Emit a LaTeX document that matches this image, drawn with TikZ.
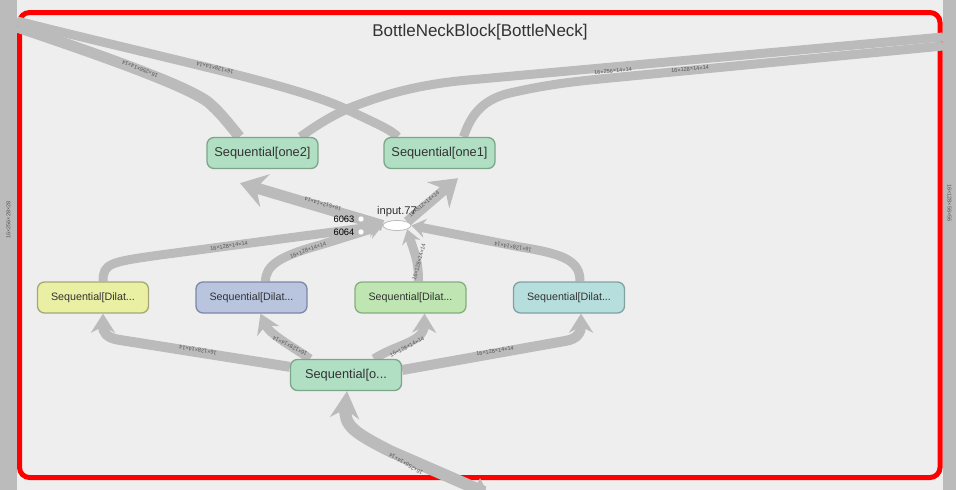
\documentclass[tikz,border=0pt]{standalone}
\usepackage{fontspec}
\setmainfont{Liberation Sans}
\usetikzlibrary{arrows.meta,shapes.geometric,calc}
\definecolor{bgc}{HTML}{EEEEEE}
\definecolor{ribc}{HTML}{BBBBBB}
\definecolor{labc}{HTML}{555555}
\definecolor{txtc}{HTML}{333333}
\definecolor{onefill}{HTML}{B1DFC4}
\definecolor{onedraw}{HTML}{7DA58A}
\definecolor{yelfill}{HTML}{E9EFA3}
\definecolor{yeldraw}{HTML}{A6A873}
\definecolor{blufill}{HTML}{B9C4DF}
\definecolor{bludraw}{HTML}{7D88A8}
\definecolor{grnfill}{HTML}{BFE6B2}
\definecolor{grndraw}{HTML}{86AE7E}
\definecolor{cyafill}{HTML}{B6DEDD}
\definecolor{cyadraw}{HTML}{7FA3A2}
\definecolor{redc}{HTML}{FF0000}
\pgfdeclarelayer{bgzero}
\pgfdeclarelayer{edges}
\pgfsetlayers{bgzero,edges,main}
\begin{document}
\begin{tikzpicture}[x=1pt,y=-1pt,
  rib/.style={draw=ribc,line width=#1},
  rib/.default=8pt,
  lbl/.style={font=\fontsize{5.6}{5.6}\selectfont,text=labc,inner sep=0pt},
  seqbox/.style={rounded corners=7pt,line width=1.3pt,minimum width=111pt,minimum height=31pt,inner sep=0pt,text=txtc},
  bigfont/.style={font=\fontsize{12.8}{13}\selectfont},
  smallfont/.style={font=\fontsize{10.7}{11}\selectfont},
  bigarr/.style={-{Stealth[length=26pt,width=34pt,inset=9pt]}},
  midarr/.style={-{Stealth[length=19pt,width=24pt,inset=6pt]}},
  smallarr/.style={-{Stealth[length=14pt,width=19pt,inset=5pt]}},
]
\useasboundingbox (0,0) rectangle (956,490);
\begin{pgfonlayer}{bgzero}
\fill[bgc] (0,0) rectangle (956,490);
\fill[ribc] (0,0) rectangle (17,490);
\fill[ribc] (943,0) rectangle (956,490);
\draw[redc,line width=5pt,rounded corners=10pt] (19.5,12.5) rectangle (940,477.5);
\end{pgfonlayer}

% nodes
\node[seqbox,bigfont,fill=onefill,draw=onedraw] (one2) at (262.5,153) {Sequential[one2]};
\node[seqbox,bigfont,fill=onefill,draw=onedraw] (one1) at (439.5,153) {Sequential[one1]};
\node[seqbox,smallfont,fill=yelfill,draw=yeldraw] (dil1) at (93,297.5) {Sequential[Dilat...};
\node[seqbox,smallfont,fill=blufill,draw=bludraw] (dil2) at (251.5,297.5) {Sequential[Dilat...};
\node[seqbox,smallfont,fill=grnfill,draw=grndraw] (dil3) at (410.5,297.5) {Sequential[Dilat...};
\node[seqbox,smallfont,fill=cyafill,draw=cyadraw] (dil4) at (569,297.5) {Sequential[Dilat...};
\node[seqbox,bigfont,fill=onefill,draw=onedraw] (seqo) at (346,375) {Sequential[o...};
\node[ellipse,fill=white,draw=ribc,line width=0.8pt,minimum width=28pt,minimum height=10pt,inner sep=0pt] (inp) at (397,225.5) {};
\node[font=\fontsize{11.2}{11}\selectfont,text=txtc,inner sep=0pt] (inplbl) at (397,211.5) {input.77};
\node[circle,fill=white,draw=ribc,line width=0.4pt,minimum size=6pt,inner sep=0pt] (c1) at (361,219) {};
\node[circle,fill=white,draw=ribc,line width=0.4pt,minimum size=6pt,inner sep=0pt] (c2) at (361,232) {};
\node[font=\fontsize{9.3}{9}\selectfont,anchor=east,inner sep=0pt] (t1) at (354.5,219) {6063};
\node[font=\fontsize{9.3}{9}\selectfont,anchor=east,inner sep=0pt] (t2) at (354.5,232) {6064};
\node[font=\fontsize{17}{17}\selectfont,text=txtc,inner sep=0pt] (title) at (480,32) {BottleNeckBlock[BottleNeck]};

\coordinate (L1) at (17,21);
\coordinate (L2) at (17,27);
\coordinate (R1) at (943,37);
\coordinate (R2) at (943,46);
\coordinate (B) at (484,492);

\begin{pgfonlayer}{edges}
% top-left ribbons
\draw[rib=9pt] (L1) .. controls (180,62) and (300,86) .. (350,111) .. controls (375,123) and (392,130) .. ([xshift=-42pt]one1.north);
\draw[rib=11pt] (L2) .. controls (100,55) and (185,85) .. (208,102) .. controls (222,114) and (232,128) .. ([xshift=-23pt]one2.north);
% right ribbons
\draw[rib=9pt] ([xshift=38pt]one2.north) .. controls (318,124) and (335,114) .. (352,107) .. controls (400,88) and (440,82) .. (480,79) -- (R1);
\draw[rib=9pt] ([xshift=24pt]one1.north) .. controls (470,118) and (480,100) .. (510,93) .. controls (545,85) and (570,82) .. (600,79) -- (R2);
% input -> one2 / one1
\draw[rib=11pt,bigarr] (inp.west) -- ([xshift=-22.5pt,yshift=-14pt]one2.south);
\draw[rib=10pt,bigarr] (inp.north east) -- ([xshift=18.5pt,yshift=-9pt]one1.south);
% dilated -> input
\draw[rib=9pt,smallarr] ([xshift=10pt]dil1.north) .. controls ([xshift=10pt,yshift=18pt]dil1.north) and (110,262) .. (160,255) -- (inp.west);
\draw[rib=9pt,smallarr] ([xshift=14pt]dil2.north) .. controls ([xshift=14pt,yshift=16pt]dil2.north) and (280,256) .. (320,245) -- (inp.west);
\draw[rib=9pt,smallarr] ([xshift=8pt]dil3.north) .. controls ([xshift=8pt,yshift=22pt]dil3.north) and (414,252) .. (inp.south east);
\draw[rib=9pt,smallarr] ([xshift=11pt]dil4.north) .. controls ([xshift=11pt,yshift=20pt]dil4.north) and (565,254) .. (520,247) -- (inp.east);
% little ports
\draw[ribc,line width=1.2pt,-{Stealth[length=5pt,width=5pt]}] (c1) -- (inp.west);
\draw[ribc,line width=1.2pt,-{Stealth[length=5pt,width=5pt]}] (c2) -- (inp.west);
% seqo -> dilated
\draw[rib=10pt,midarr] ([yshift=-8pt]seqo.north west) -- (120,340) .. controls (106,338) and (103,332) .. ([xshift=10pt]dil1.south);
\draw[rib=9pt,midarr] ([xshift=-36pt]seqo.north) .. controls (295,348) and (270,335) .. ([xshift=9pt]dil2.south);
\draw[rib=9pt,midarr] ([xshift=28pt]seqo.north) .. controls (395,345) and (424,342) .. ([xshift=14pt]dil3.south);
\draw[rib=10pt,midarr] ([yshift=5pt]seqo.east) -- (565,341) .. controls (578,339) and (581,332) .. ([xshift=12pt]dil4.south);
% bottom input
\draw[rib=12pt,-{Stealth[length=27pt,width=29pt,inset=9pt]}] (B) -- (392,452) .. controls (352,432) and (344,425) .. ([xshift=1pt]seqo.south);
\fill[ribc] (474,490) -- (480,478) -- (486,490) -- cycle;
\end{pgfonlayer}

% edge labels
\node[lbl,rotate=158] (e1) at (140,69) {16×256×14×14};
\node[lbl,rotate=166] (e2) at (215,68) {16×128×14×14};
\node[lbl,rotate=5] (e3) at (613,71) {16×256×14×14};
\node[lbl,rotate=5] (e4) at (690,69) {16×128×14×14};
\node[lbl,rotate=164] (e5) at (323,204) {16×512×14×14};
\node[lbl,rotate=39] (e6) at (424,204) {16×512×14×14};
\node[lbl,rotate=9] (e7) at (229,246) {16×128×14×14};
\node[lbl,rotate=20] (e8) at (308,250) {16×128×14×14};
\node[lbl,rotate=75] (e9) at (419,262) {16×128×14×14};
\node[lbl,rotate=170] (e10) at (513,247) {16×128×14×14};
\node[lbl,rotate=171] (e11) at (198,350) {16×128×14×14};
\node[lbl,rotate=153] (e12) at (290,346) {16×128×14×14};
\node[lbl,rotate=27] (e13) at (407,347) {16×128×14×14};
\node[lbl,rotate=9] (e14) at (495,351) {16×128×14×14};
\node[lbl,rotate=150] (e15) at (406,464) {16×256×14×14};
\node[lbl,rotate=90] (e16) at (8.5,220) {16×256×28×28};
\node[lbl,rotate=-90] (e17) at (949.5,203) {16×128×56×56};
\end{tikzpicture}
\end{document}
